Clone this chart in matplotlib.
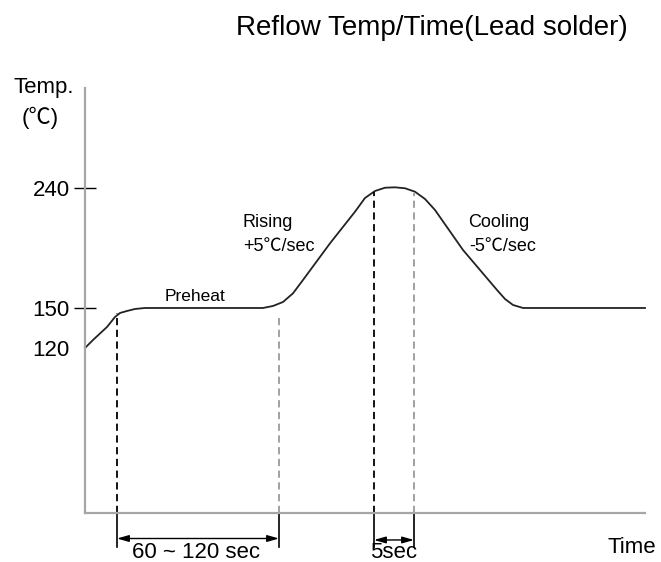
import matplotlib
matplotlib.use("Agg")
import matplotlib.pyplot as plt

# reflow profile (time in arbitrary units, temperature in degC)
time_pts = [0, 8, 22, 30, 35, 42, 50, 60,
            178, 188, 198, 208, 218, 245, 270, 280, 290, 300, 310, 320, 330, 340, 350,
            378, 412, 420, 428, 438, 560]
temp_pts = [120, 126, 135.75, 143.25, 146.25, 147.75, 149.25, 150,
            150, 151.5, 154.5, 161, 171, 198.5, 222.2, 232.5, 237.75, 240.2, 240.5, 239.8, 237.2, 231.75, 223.5,
            193.5, 163.5, 156.75, 152.25, 150, 150]

ytick_vals = [150, 240]
ytick_labels = ["150", "240"]
minor_vals = [120]
minor_labels = ["120"]

# guide lines: time, temp where the dashed line starts, colour
guide_times = [32, 194, 289, 329]
guide_tops = [146.25, 144.75, 237, 236.25]
guide_colors = ["black", "#9a9a9a", "black", "#9a9a9a"]

# duration spans below the time axis
span_starts = [32, 289]
span_ends = [194, 329]
span_labels = ["60 ~ 120 sec", "5sec"]
span_label_x = [47, 285]

FONT = ["Liberation Sans", "Noto Sans CJK JP"]
plt.rcParams["font.family"] = FONT

fig = plt.figure(figsize=(6.61, 5.62), dpi=100)
W, H = 661, 562
ax = fig.add_axes([85 / W, (H - 512.5) / H, (645 - 85) / W, (512.5 - 88) / H])

ymin, ymax = -3.4, 315
ax.set_xlim(0, 560)
ax.set_ylim(ymin, ymax)

ax.plot(time_pts, temp_pts, color="#222222", linewidth=1.3, clip_on=False,
        solid_joinstyle="round")

below = -29.25
for t, top, c in zip(guide_times, guide_tops, guide_colors):
    ax.plot([t, t], [ymin, top], color=c, linewidth=1.3, linestyle=(0, (4, 2.5)))
    ax.plot([t, t], [ymin, below], color="black", linewidth=1.2, clip_on=False)

arrow_y = [-22.9, -24]
for t0, t1, ay, lab, lx in zip(span_starts, span_ends, arrow_y, span_labels, span_label_x):
    ax.annotate("", xy=(t1, ay), xytext=(t0, ay), annotation_clip=False,
                arrowprops=dict(arrowstyle="<|-|>,head_length=0.7,head_width=0.2",
                                color="black", linewidth=1.0, shrinkA=0, shrinkB=0,
                                mutation_scale=10))
    ax.text(lx, -37.5, lab, fontsize=16, va="baseline", ha="left", clip_on=False)

# phase labels
ax.text(80, 155.5, "Preheat", fontsize=12.5, va="baseline")
ax.text(158, 210.75, "Rising", fontsize=13, va="baseline")
ax.text(158, 193, "+5℃/sec", fontsize=13, va="baseline")
ax.text(383, 210.75, "Cooling", fontsize=13, va="baseline")
ax.text(384, 193, "-5℃/sec", fontsize=13, va="baseline")

# axes styling
for side in ["top", "right"]:
    ax.spines[side].set_visible(False)
for side in ["left", "bottom"]:
    ax.spines[side].set_color("#a6a6a6")
    ax.spines[side].set_linewidth(1.6)

ax.set_xticks([])
ax.set_yticks(ytick_vals)
ax.set_yticklabels(ytick_labels)
ax.set_yticks(minor_vals, minor=True)
ax.set_yticklabels(minor_labels, minor=True)
ax.tick_params(axis="y", which="major", direction="inout", length=16, width=1.0,
               color="black", labelsize=16, pad=3)
ax.tick_params(axis="y", which="minor", length=0, labelsize=16, pad=11)

fig.text(13 / W, 1 - 93 / H, "Temp.", fontsize=16, va="baseline", ha="left")
fig.text(40 / W, 1 - 118 / H, "(℃)", fontsize=16, va="center", ha="center")
fig.text(608 / W, 1 - 553 / H, "Time", fontsize=16, va="baseline", ha="left")
fig.text(431.5 / W, 1 - 28 / H, "Reflow Temp/Time(Lead solder)", fontsize=20,
         va="center", ha="center")

fig.savefig("out.png", dpi=100)
